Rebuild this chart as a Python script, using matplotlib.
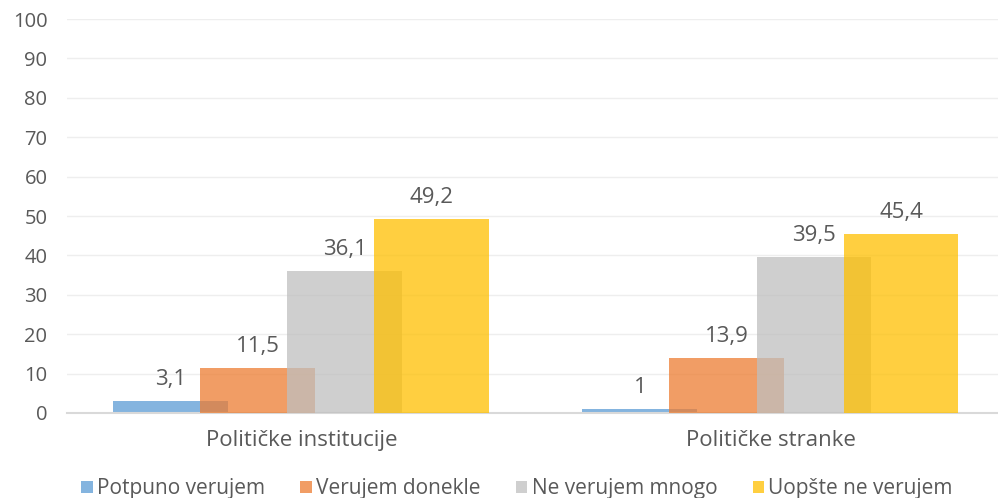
import numpy as np
import matplotlib
matplotlib.use("Agg")
import matplotlib.pyplot as plt

#--------------------- Data ---------------------
categories = ["Političke institucije", "Političke stranke"]
series = ["Potpuno verujem", "Verujem donekle", "Ne verujem mnogo", "Uopšte ne verujem"]
potpuno = [3.1, 1.0]
donekle = [11.5, 13.9]
ne_mnogo = [36.1, 39.5]
uopste = [49.2, 45.4]
labels = [["3,1", "1"], ["11,5", "13,9"], ["36,1", "39,5"], ["49,2", "45,4"]]
colors = ["#5B9BD5", "#ED7D31", "#BFBFBF", "#FFC000"]

plt.rcParams['font.family'] = ['Open Sans', 'DejaVu Sans']
txt = "#595959"

fig = plt.figure(figsize=(9.98, 4.98), dpi=100)
ax = fig.add_axes([0.067, 0.1707, 0.94, 0.7911])

x = np.arange(len(categories))
width = 0.245
step = 0.1855
values = [potpuno, donekle, ne_mnogo, uopste]
for i, vals in enumerate(values):
	pos = x + (i - 1.5) * step
	ax.bar(pos, vals, width, color=colors[i], alpha=0.75, label=series[i], zorder=2 + i)
	for p, v, l in zip(pos, vals, labels[i]):
		ax.text(p, v + 2.8, l, ha="center", va="bottom", fontsize=16, color=txt)

ax.set_xlim(-0.5, 1.5)
ax.set_ylim(0, 100)
ax.set_yticks(range(0, 101, 10))
ax.set_xticks(x)
ax.set_xticklabels(categories, fontsize=16)
ax.tick_params(axis="both", length=0, labelsize=14.5, labelcolor=txt)
ax.tick_params(axis="x", labelsize=16, pad=12)
ax.tick_params(axis="y", pad=14)
ax.grid(axis="y", color="#EEEEEE", linewidth=1, zorder=0)
ax.set_axisbelow(True)
for s in ["top", "right", "left"]:
	ax.spines[s].set_visible(False)
ax.spines["bottom"].set_color("#D9D9D9")
ax.spines["bottom"].set_linewidth(1.5)

leg = fig.legend(loc="lower center", bbox_to_anchor=(0.518, -0.04), ncol=4, frameon=False,
	fontsize=15, handlelength=0.55, handleheight=0.55, handletextpad=0.2, columnspacing=1.7)
for t in leg.get_texts():
	t.set_color(txt)

fig.savefig("out.png", dpi=100)
